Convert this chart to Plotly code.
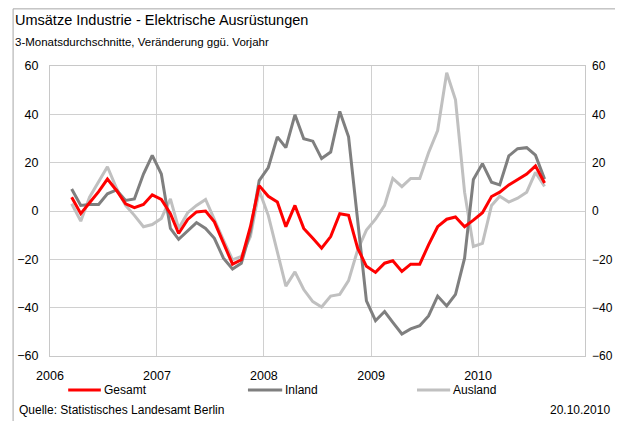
import plotly.graph_objects as go

# Monthly dates (3-month averages), March 2006 .. August 2010
months = [f"{2006 + (m // 12)}-{(m % 12) + 1:02d}-16" for m in range(2, 56)]

gesamt = [5.7, -1.1, 3.4, 8.0, 13.2, 8.5, 3.0, 1.4, 2.7, 6.7,
          4.8, -1.1, -9.3, -3.5, -0.4, 0.0, -4.5, -13.4, -22.0, -20.2,
          -6.5, 10.5, 6.1, 3.7, -6.5, 2.3, -7.2, -11.3, -15.4, -10.6,
          -1.1, -1.8, -15.4, -22.9, -25.4, -21.6, -20.6, -25.0, -22.0, -22.0,
          -14.0, -6.5, -3.4, -2.5, -6.5, -3.8, -0.7, 6.0, 7.8, 10.8,
          13.0, 15.3, 18.7, 11.6]

inland = [9.1, 2.3, 2.7, 2.7, 7.1, 8.7, 4.4, 5.0, 15.3, 23.0,
          15.3, -7.2, -11.7, -8.3, -4.8, -7.2, -11.3, -19.5, -24.0, -21.6,
          -8.6, 12.6, 18.0, 30.7, 26.2, 39.8, 29.9, 28.9, 21.7, 24.4,
          41.2, 30.7, -3.1, -37.2, -45.4, -41.6, -46.1, -50.9, -48.8, -47.5,
          -43.4, -35.2, -39.3, -34.5, -19.5, 13.0, 19.6, 11.9, 10.8, 22.8,
          25.8, 26.2, 23.1, 13.2]

ausland = [3.0, -4.2, 5.7, 11.9, 18.3, 9.4, 2.3, -1.8, -6.5, -5.6,
           -3.1, 5.0, -7.2, -0.7, 2.3, 4.8, -3.1, -12.0, -20.2, -18.8,
           -10.6, 8.5, -1.8, -16.8, -31.1, -25.2, -32.5, -37.5, -39.7, -35.2,
           -34.5, -28.8, -16.1, -7.9, -3.4, 2.3, 13.5, 10.1, 13.5, 13.5,
           24.1, 33.3, 57.2, 46.0, 7.8, -14.7, -13.4, 2.3, 6.1, 3.7,
           5.3, 7.8, 16.0, 10.2]

year_ticks = ["2006-01-01", "2007-01-01", "2008-01-01", "2009-01-01", "2010-01-01"]
year_labels = ["2006", "2007", "2008", "2009", "2010"]
y_ticks = [-60, -40, -20, 0, 20, 40, 60]

series_names = ["Gesamt", "Inland", "Ausland"]
series_colors = ["#ff0000", "#7f7f7f", "#c0c0c0"]

FONT = "Liberation Sans, Arial, sans-serif"

fig = go.Figure()
# draw order: Ausland, Inland, Gesamt (red on top)
for name, vals, col in [("Ausland", ausland, series_colors[2]),
                        ("Inland", inland, series_colors[1]),
                        ("Gesamt", gesamt, series_colors[0])]:
    fig.add_trace(go.Scatter(x=months, y=vals, name=name, mode="lines",
                             line=dict(color=col, width=3), showlegend=False))
# invisible trace for right axis
fig.add_trace(go.Scatter(x=months, y=gesamt, yaxis="y2", showlegend=False,
                         mode="lines", line=dict(width=0), hoverinfo="skip", opacity=0))

# manual legend
leg_y = -0.117
leg_line_x = [(0.034, 0.095), (0.370, 0.434), (0.686, 0.748)]
shapes = [dict(type="rect", xref="paper", yref="paper", x0=-0.069, x1=1.058,
               y0=-0.3, y1=1.197, line=dict(color="#a6a6a6", width=1), layer="below")]
annotations = []
for (x0, x1), name, col in zip(leg_line_x, series_names, series_colors):
    shapes.append(dict(type="line", xref="paper", yref="paper", x0=x0, x1=x1,
                       y0=leg_y, y1=leg_y, line=dict(color=col, width=3)))
    annotations.append(dict(text=name, xref="paper", yref="paper", x=x1 + 0.002, y=leg_y,
                            xanchor="left", yanchor="middle", showarrow=False,
                            font=dict(size=12, family=FONT)))

annotations += [
    dict(text="Umsätze Industrie - Elektrische Ausrüstungen", xref="paper", yref="paper",
         x=-0.069, y=1.159, xanchor="left", yanchor="middle", showarrow=False,
         font=dict(size=14.5, family=FONT)),
    dict(text="3-Monatsdurchschnitte, Veränderung ggü. Vorjahr", xref="paper", yref="paper",
         x=-0.069, y=1.083, xanchor="left", yanchor="middle", showarrow=False,
         font=dict(size=11.5, family=FONT)),
    dict(text="Quelle: Statistisches Landesamt Berlin", xref="paper", yref="paper",
         x=-0.062, y=-0.186, xanchor="left", yanchor="middle", showarrow=False,
         font=dict(size=12, family=FONT)),
    dict(text="20.10.2010", xref="paper", yref="paper",
         x=1.05, y=-0.186, xanchor="right", yanchor="middle", showarrow=False,
         font=dict(size=12, family=FONT)),
]

# page body has an 8px default margin; size the figure so the plot area lands
# where the reference has it inside the 623x421 window
fig.update_layout(
    width=615, height=413,
    margin=dict(l=42, r=38, t=58, b=65, autoexpand=False),
    paper_bgcolor="white", plot_bgcolor="white",
    font=dict(family=FONT, size=12, color="#000000"),
    showlegend=False,
    xaxis=dict(type="date", range=["2006-01-01", "2011-01-01"],
               tickvals=year_ticks, ticktext=year_labels,
               showgrid=True, gridcolor="#d0d0d0", gridwidth=1,
               showline=True, linecolor="#c8c8c8", mirror=True,
               ticks="", tickfont=dict(size=12.5), zeroline=False, automargin=False,
               ticklabelstandoff=8),
    yaxis=dict(range=[-60, 60], tickvals=y_ticks,
               showgrid=True, gridcolor="#d0d0d0", gridwidth=1,
               showline=True, linecolor="#c8c8c8", mirror=True,
               ticks="", zeroline=False, tickfont=dict(size=12.5), automargin=False,
               ticklabelstandoff=8),
    yaxis2=dict(range=[-60, 60], tickvals=y_ticks, overlaying="y", side="right",
                showgrid=False, zeroline=False, ticks="", tickfont=dict(size=12),
                automargin=False, ticklabelstandoff=6),
    annotations=annotations,
    shapes=shapes,
)

fig.write_html("out.html")
